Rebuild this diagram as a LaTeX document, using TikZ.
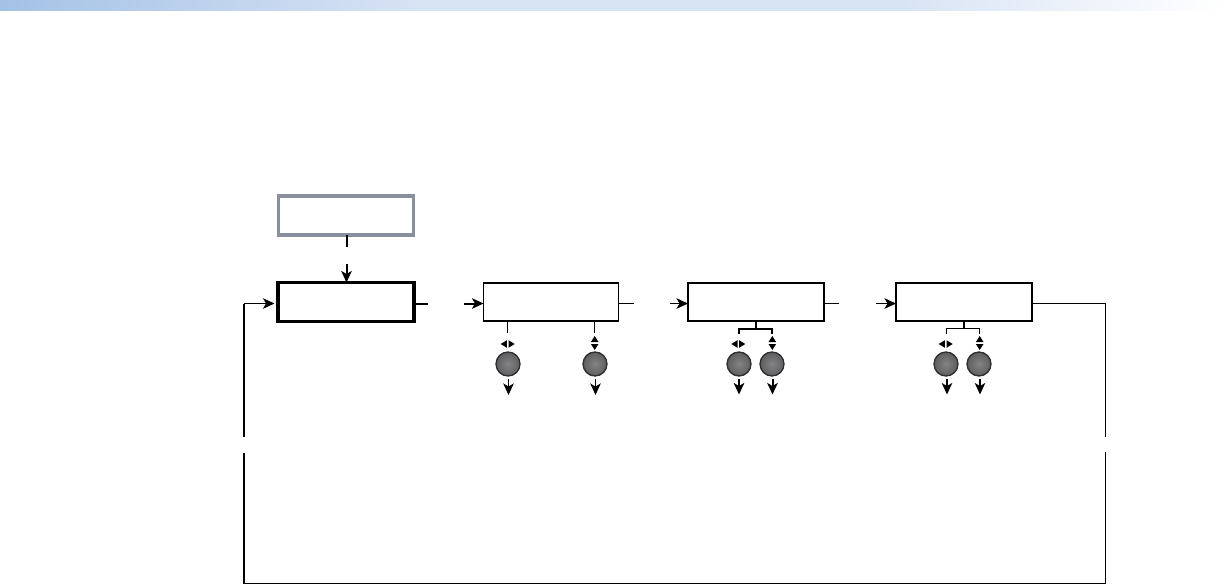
\documentclass[tikz,border=0pt]{standalone}
\usetikzlibrary{positioning,arrows.meta}
\definecolor{bandBlue}{HTML}{A4C2E6}
\definecolor{bandMid}{HTML}{D8E3F4}
\definecolor{frameGray}{HTML}{8A8F9E}
\definecolor{knobGray}{HTML}{6E6E70}
\definecolor{knobEdge}{HTML}{2E2E30}
\tikzset{
    menubox/.style={draw=black,fill=white,outer sep=0pt,inner sep=0pt,
        minimum width=135pt,minimum height=38pt},
    greybox/.style={menubox,draw=frameGray,line width=3.4pt,minimum height=39pt},
    boldbox/.style={menubox,line width=3.8pt,minimum width=136pt,minimum height=39pt},
    knob/.style={circle,draw=knobEdge,line width=1.3pt,inner color=knobGray!85,
        outer color=knobGray!85!black,minimum size=24pt,inner sep=0pt,outer sep=0pt},
    wire/.style={draw=black,line width=1.2pt},
    heavywire/.style={draw=black,line width=2pt},
    arrow/.style={-{Stealth[length=11.5pt,width=10.5pt,inset=3pt]},draw=black,line width=1.3pt},
    heavyarrow/.style={-{Stealth[length=11.5pt,width=10.5pt,inset=3pt]},draw=black,line width=2pt},
    lrmark/.pic={
        \fill (-0.8,-3.8) -- (-0.8,3.8) -- (-7,0) -- cycle;
        \fill (0.8,-3.8) -- (0.8,3.8) -- (7,0) -- cycle;
    },
    udmark/.pic={
        \fill (-3.8,-1) -- (3.8,-1) -- (0,-7) -- cycle;
        \fill (-3.8,1) -- (3.8,1) -- (0,7) -- cycle;
    }
}
\begin{document}
\begin{tikzpicture}[x=1pt,y=-1pt]
    \useasboundingbox (0,0) rectangle (1224,586);
    \shade[left color=bandBlue,right color=bandMid] (0,0) rectangle (420,11);
    \fill[bandMid] (420,0) rectangle (900,11);
    \shade[left color=bandMid,right color=white] (900,0) rectangle (1224,11);

    % boxes
    \node[greybox] (power) at (346,215.5) {};
    \node[boldbox] (mainmenu) [below=47.5pt of power] {};
    \node[menubox,line width=1.2pt] (filebox) [right=69.5pt of mainmenu] {};
    \node[menubox,line width=1.7pt,minimum width=136pt] (inputbox) [right=69.5pt of filebox] {};
    \node[menubox,line width=1.7pt,minimum width=136pt] (outputbox) [right=72pt of inputbox] {};

    % free ends of the broken connectors
    \coordinate (powerOut) at (346.5,247);
    \coordinate (powerIn) at (346.5,264);
    \coordinate (mainOut) at (428,303.5);
    \coordinate (mainIn) at (464,303.5);
    \coordinate (fileOut) at (634,303.5);
    \coordinate (fileIn) at (670,303.5);
    \coordinate (inputOut) at (839,303.5);
    \coordinate (inputIn) at (876,303.5);
    \coordinate (loopCorner) at (1105.5,303.5);
    \coordinate (loopBreakA) at (1105.5,437);
    \coordinate (loopBreakB) at (1105.5,453);
    \coordinate (loopBottomR) at (1105.5,583.5);
    \coordinate (loopBottomL) at (244,583.5);
    \coordinate (loopBreakC) at (244,453);
    \coordinate (loopBreakD) at (244,437);
    \coordinate (loopTop) at (244,303.5);

    \draw[heavywire] (power.south -| powerOut) -- (powerOut);
    \draw[heavyarrow] (powerIn) -- (powerIn |- mainmenu.north);
    \draw[heavywire] (mainmenu.east |- mainOut) -- (mainOut);
    \draw[heavyarrow] (mainIn) -- (mainIn -| filebox.west);
    \draw[wire] (filebox.east |- fileOut) -- (fileOut);
    \draw[arrow] (fileIn) -- (fileIn -| inputbox.west);
    \draw[wire] (inputbox.east |- inputOut) -- (inputOut);
    \draw[arrow] (inputIn) -- (inputIn -| outputbox.west);

    % return loop
    \draw[wire,line join=miter] (outputbox.east |- loopCorner) -- (loopCorner) -- (loopBreakA);
    \draw[wire,line cap=rect] (loopBreakB) -- (loopBottomR) -- (loopBottomL);
    \draw[heavywire] (loopBottomL) -- (loopBreakC);
    \draw[heavywire] (loopBreakD) -- (loopTop);
    \draw[arrow] (loopTop) -- ([xshift=-3.5pt]mainmenu.west |- loopTop);

    % knobs
    \node[knob] (knobA) at (508,364) {};
    \node[knob] (knobB) at (595,364) {};
    \node[knob] (knobC) at (739,364) {};
    \node[knob] (knobD) at (772,364) {};
    \node[knob] (knobE) at (946,364) {};
    \node[knob] (knobF) at (979,364) {};
    \pic at (507.7,344) {lrmark};
    \pic at (594.7,343) {udmark};
    \pic at (738.3,344) {lrmark};
    \pic at (772.3,343) {udmark};
    \pic at (945.7,344) {lrmark};
    \pic at (979.7,343) {udmark};

    % stubs and brackets
    \coordinate (stubA) at (507.5,332.5);
    \coordinate (stubB) at (594.5,332.5);
    \coordinate (brkC) at (739,329);
    \coordinate (brkD) at (772,329);
    \coordinate (brkE) at (946.5,328.5);
    \coordinate (brkF) at (979.5,328.5);
    \coordinate (brkCend) at (739,334);
    \coordinate (brkDend) at (772,334);
    \coordinate (brkEend) at (946.5,334);
    \coordinate (brkFend) at (979.5,334);
    \draw[wire] (stubA |- filebox.south) -- (stubA);
    \draw[wire] (stubB |- filebox.south) -- (stubB);
    \draw[wire] (inputbox.south) -- (inputbox.south |- brkC);
    \draw[heavywire,line join=miter] (brkCend) -- (brkC) -- (brkD) -- (brkDend);
    \draw[heavywire] (outputbox.south) -- (outputbox.south |- brkE);
    \draw[wire,line width=1pt,line join=miter] (brkEend) -- (brkE) -- (brkF) -- (brkFend);

    % arrows below the knobs
    \coordinate (tipA) at (508.5,395);
    \coordinate (tipB) at (595.5,395);
    \coordinate (tipC) at (739,394.5);
    \coordinate (tipD) at (772.5,394.5);
    \coordinate (tipE) at (947,394.5);
    \coordinate (tipF) at (980,394.5);
    \draw[arrow] (tipA |- knobA.south) ++(0,3) -- (tipA);
    \draw[arrow] (tipB |- knobB.south) ++(0,3) -- (tipB);
    \draw[heavyarrow] (tipC |- knobC.south) ++(0,3) -- (tipC);
    \draw[heavyarrow] (tipD |- knobD.south) ++(0,3) -- (tipD);
    \draw[arrow] (tipE |- knobE.south) ++(0,3) -- (tipE);
    \draw[arrow] (tipF |- knobF.south) ++(0,3) -- (tipF);
\end{tikzpicture}
\end{document}
